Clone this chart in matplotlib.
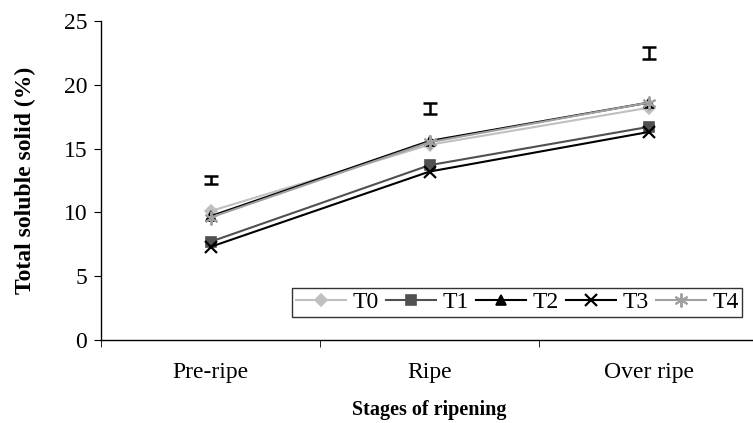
import matplotlib
matplotlib.use("Agg")
import matplotlib.pyplot as plt
from matplotlib.ticker import FixedLocator

plt.rcParams['font.family'] = ['Liberation Serif', 'DejaVu Serif']

stages = ["Pre-ripe", "Ripe", "Over ripe"]
T0 = [10.1, 15.3, 18.2]
T1 = [7.7, 13.7, 16.7]
T2 = [9.7, 15.6, 18.6]
T3 = [7.3, 13.2, 16.3]
T4 = [9.6, 15.5, 18.6]
err_center = [12.55, 18.15, 22.5]
err_half = [0.3, 0.45, 0.45]

fig = plt.figure(figsize=(7.53, 4.23), dpi=100)
ax = fig.add_axes([101/753, (423-340)/423, 657/753, 319/423])

x = list(range(len(stages)))
series = [
    ("T0", T0, "#c0c0c0", "D", 6, 1.2),
    ("T1", T1, "#505050", "s", 7, 1.2),
    ("T2", T2, "#000000", "^", 7, 1.2),
    ("T3", T3, "#000000", "x", 9, 1.6),
    ("T4", T4, "#a0a0a0", (6, 2, 0), 10, 1.4),
]
for name, vals, col, mk, ms, mew in series:
    ax.plot(x, vals, color=col, lw=1.5, marker=mk, markersize=ms,
            markerfacecolor=col, markeredgecolor=col, markeredgewidth=mew,
            label=name)

ax.errorbar(x, err_center, yerr=err_half, fmt='none', ecolor='black',
            elinewidth=1.8, capsize=5, capthick=1.8)

ax.set_xlim(-0.5, 2.5)
ax.set_ylim(0, 25)
ax.set_yticks([0, 5, 10, 15, 20, 25])
ax.set_xticks(x)
ax.set_xticklabels(stages)
ax.xaxis.set_minor_locator(FixedLocator([-0.5, 0.5, 1.5, 2.5]))
ax.tick_params(axis='x', which='major', length=0, pad=16, labelsize=17)
ax.tick_params(axis='x', which='minor', length=5, direction='out')
ax.tick_params(axis='y', length=5, direction='out', labelsize=17, pad=5)

for s in ['top', 'right']:
    ax.spines[s].set_visible(False)
for s in ['left', 'bottom']:
    ax.spines[s].set_linewidth(1.0)

ax.set_ylabel("Total soluble solid (%)", fontsize=17, fontweight='bold', labelpad=20)
ax.set_xlabel("Stages of ripening", fontsize=14.5, fontweight='bold', labelpad=12)

leg = ax.legend(loc='upper left', bbox_to_anchor=(292/753, 1-288/423),
                bbox_transform=fig.transFigure, ncol=5, frameon=True,
                fancybox=False, shadow=False, fontsize=17,
                handlelength=2.15, handletextpad=0.25, columnspacing=0.3,
                borderpad=0.15, borderaxespad=0)
leg.get_frame().set_edgecolor('black')
leg.get_frame().set_linewidth(1.0)

fig.savefig("out.png", dpi=100)
